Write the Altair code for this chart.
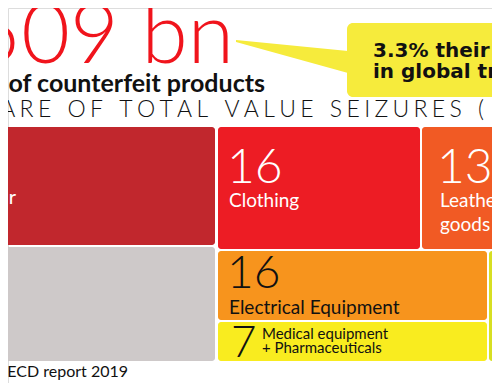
import altair as alt
import pandas as pd

# ---- treemap cells (layout frame of the infographic) ----
cell_names = ["Footwear", "Other", "Clothing", "Leather goods",
              "Electrical Equipment", "Medical equipment + Pharmaceuticals", "Watches"]
cell_values = [22, 0, 16, 13, 16, 7, 11]
cell_x0 = [-40, -40, 218, 422, 218, 218, 489]
cell_x1 = [215, 215, 420, 560, 487, 487, 560]
cell_y0 = [127, 247, 127, 127, 251, 322, 251]
cell_y1 = [245, 361, 249, 249, 320, 361, 361]
cell_colors = ["#C1272D", "#CEC9C9", "#ED1C24", "#F15A24", "#F7941D", "#F9EC1F", "#D7DF23"]

# ---- callout box & pointer ----
box_x = [347]; box_x2 = [560]; box_y = [23]; box_y2 = [97]
ptr_x = [236, 348]; ptr_top = [40, 51]; ptr_bot = [42, 73]

# ---- texts ----
big_num = "509 bn"
subtitle = "of counterfeit products"
header = "SHARE OF TOTAL VALUE SEIZURES ("
callout_lines = ["3.3% their share", "in global trade"]
source = "Source: OECD report 2019"

cells = pd.DataFrame({"name": cell_names, "value": cell_values,
                      "x0": cell_x0, "x1": cell_x1, "y0": cell_y0, "y1": cell_y1,
                      "color": cell_colors})

XS = alt.Scale(domain=[8, 492], nice=False, zero=False)
YS = alt.Scale(domain=[8, 383], nice=False, zero=False, reverse=True)

def X(f): return alt.X(f, type="quantitative", scale=XS, axis=None)
def Y(f): return alt.Y(f, type="quantitative", scale=YS, axis=None)

rects = alt.Chart(cells).mark_rect(cornerRadius=3, clip=True).encode(
    x=X("x0"), x2="x1", y=Y("y0"), y2="y1",
    color=alt.Color("color:N", scale=None))

box = alt.Chart(pd.DataFrame({"x0": box_x, "x1": box_x2, "y0": box_y, "y1": box_y2})).mark_rect(
    cornerRadius=6, color="#F6EB3C", clip=True).encode(x=X("x0"), x2="x1", y=Y("y0"), y2="y1")

ptr = alt.Chart(pd.DataFrame({"x": ptr_x, "y0": ptr_top, "y1": ptr_bot})).mark_area(
    color="#F6EB3C", clip=True).encode(x=X("x"), y=Y("y0"), y2="y1")

def txt(df, font="Lato", **kw):
    return alt.Chart(df).mark_text(baseline="alphabetic", font=font, clip=True, **kw).encode(
        x=X("x"), y=Y("y"), text="t:N")

layers = [rects, box, ptr]

spaced_header = "\u2009\u200A".join(header).replace(" ", " \u200A")

layers.append(txt(pd.DataFrame({"x": [234], "y": [63], "t": [big_num]}),
                  align="right", fontSize=84, color="#F0141C", fontWeight=300))
layers.append(txt(pd.DataFrame({"x": [265], "y": [92], "t": [subtitle]}),
                  align="right", fontSize=25, fontWeight="bold", color="#111111"))
layers.append(txt(pd.DataFrame({"x": [484], "y": [117], "t": [spaced_header]}),
                  align="right", fontSize=23, color="#111111", fontWeight=300))
layers.append(txt(pd.DataFrame({"x": [373, 373], "y": [57, 78], "t": callout_lines}),
                  font="DejaVu Sans", align="left", fontSize=20, fontWeight="bold", color="#111111"))
layers.append(txt(pd.DataFrame({"x": [128], "y": [377], "t": [source]}),
                  align="right", fontSize=16, color="#111111"))

# labels inside cells
white_nums = pd.DataFrame({"x": [227, 437], "y": [183, 183], "t": ["16", "13"]})
white_lbls = pd.DataFrame({"x": [16, 229, 440, 440], "y": [204, 207, 207, 231],
                           "t": ["Footwear", "Clothing", "Leather", "goods"]})
layers.append(txt(white_nums, align="left", fontSize=48, color="white", fontWeight=300))
layers.append(txt(white_lbls.iloc[:1], align="right", fontSize=20, color="white"))
layers.append(txt(white_lbls.iloc[1:], align="left", fontSize=19, color="white"))

black_nums = pd.DataFrame({"x": [227, 231, 495], "y": [288, 357, 288], "t": ["16", "7", "11"]})
layers.append(txt(black_nums.iloc[[0, 2]], align="left", fontSize=46, color="#111111", fontWeight=300))
layers.append(txt(black_nums.iloc[[1]], align="left", fontSize=44, color="#111111", fontWeight=300))
layers.append(txt(pd.DataFrame({"x": [229, 495], "y": [314, 314], "t": ["Electrical Equipment", "Watches"]}),
                  align="left", fontSize=19, color="#111111"))
layers.append(txt(pd.DataFrame({"x": [262, 262], "y": [339, 353],
                                "t": ["Medical equipment", "+ Pharmaceuticals"]}),
                  align="left", fontSize=15, color="#111111"))

chart = alt.layer(*layers).properties(
    width=484, height=375, padding=0, autosize=alt.AutoSizeParams(type="none")
).configure_view(stroke=None).configure(background="white")

chart.save("out.html", embed_options={"renderer": "svg", "actions": False})
